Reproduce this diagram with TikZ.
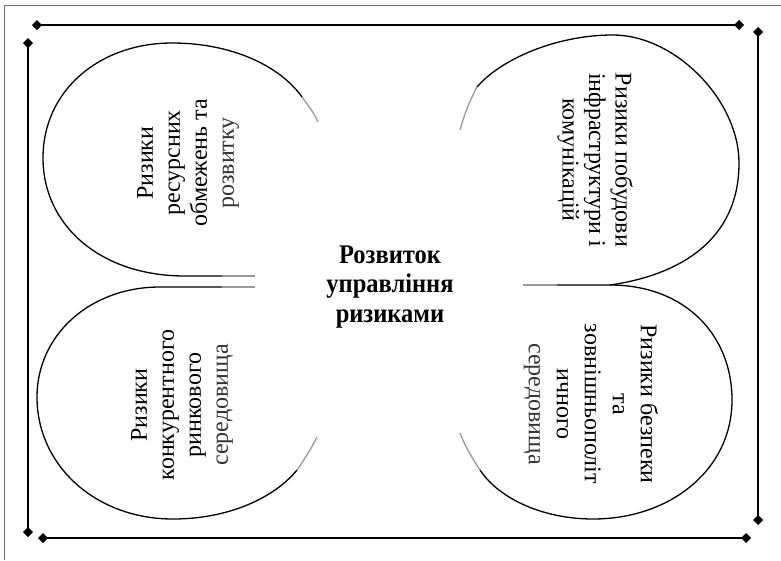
\documentclass[tikz,border=0pt]{standalone}
\usepackage{fontspec}
\setmainfont{Liberation Serif}
\usetikzlibrary{arrows.meta}
\begin{document}
\begin{tikzpicture}[x=1pt,y=-1pt,
  petal/.style={line width=1.3pt, black},
  faded/.style={line width=1.3pt, black!40},
  rail/.style={line width=2pt, {Diamond[length=10pt,width=10pt]}-{Diamond[length=10pt,width=10pt]}},
  petaltext/.style={align=center, inner sep=0pt},
  hub/.style={align=center, inner sep=0pt, yscale=1.1, transform shape,
    font=\bfseries\fontsize{24.5}{26.4}\selectfont}]
\useasboundingbox (0,0) rectangle (781,560);
\fill[white] (0,0) rectangle (781,560);
% page frame
\draw[black!55, line width=1pt] (4,560) -- (4,5) -- (781,5);

% rails with diamond ends
\draw[rail] (32,25) -- (744,25);
\draw[rail] (28,38) -- (28,537);
\draw[rail] (38,538) -- (751,538);
\draw[rail] (758,27) -- (758,525);

% upper left petal
\draw[petal] (222,276) -- (185,276) .. controls (100,276) and (43,225) .. (43,158)
  .. controls (43,90) and (100,43) .. (172,43) .. controls (232,43) and (280,66) .. (302,97);
\draw[faded] (302,97) .. controls (308,105) and (314,113) .. (318,122);
\draw[faded] (222,276) -- (255,276);

% lower left petal
\draw[petal] (222,287) -- (160,287) .. controls (90,287) and (37,335) .. (37,397)
  .. controls (37,465) and (95,519) .. (173,519) .. controls (230,519) and (275,497) .. (297,470);
\draw[faded] (297,470) .. controls (304,460) and (311,449) .. (317,437);
\draw[faded] (222,287) -- (255,287);

% upper right petal
\draw[faded] (460,130) .. controls (464,115) and (470,100) .. (477,87);
\draw[petal] (477,87) .. controls (500,60) and (555,35) .. (613,35)
  .. controls (675,35) and (739,100) .. (739,163) .. controls (739,240) and (680,275) .. (610,285) -- (557,285);
\draw[faded] (557,285) -- (523,285);

% lower right petal
\draw[petal] (610,285) .. controls (685,285) and (732,335) .. (732,400)
  .. controls (732,470) and (670,519) .. (593,519) .. controls (545,519) and (500,500) .. (480,470);
\draw[faded] (480,470) .. controls (472,458) and (465,446) .. (460,433);

% texts
\node[hub] (hub) at (390,287) {Розвиток\\управління\\ризиками};
\node[petaltext, rotate=90, font=\fontsize{24}{27}\selectfont] (resources) at (188,163)
  {Ризики\\ресурсних\\обмежень та\\\textcolor{black!80}{розвитку}};
\node[petaltext, rotate=-90, font=\fontsize{24}{26.5}\selectfont] (infra) at (595,160)
  {Ризики побудови\\інфраструктури і\\комунікацій};
\node[petaltext, rotate=90, font=\fontsize{24}{27}\selectfont] (market) at (182,405)
  {Ризики\\конкурентного\\ринкового\\\textcolor{black!80}{середовища}};
\node[petaltext, rotate=-90, font=\fontsize{24}{28}\selectfont] (security) at (591,404)
  {Ризики безпеки\\та\\зовнішньополіт\\ичного\\\textcolor{black!80}{середовища}};
\end{tikzpicture}
\end{document}
